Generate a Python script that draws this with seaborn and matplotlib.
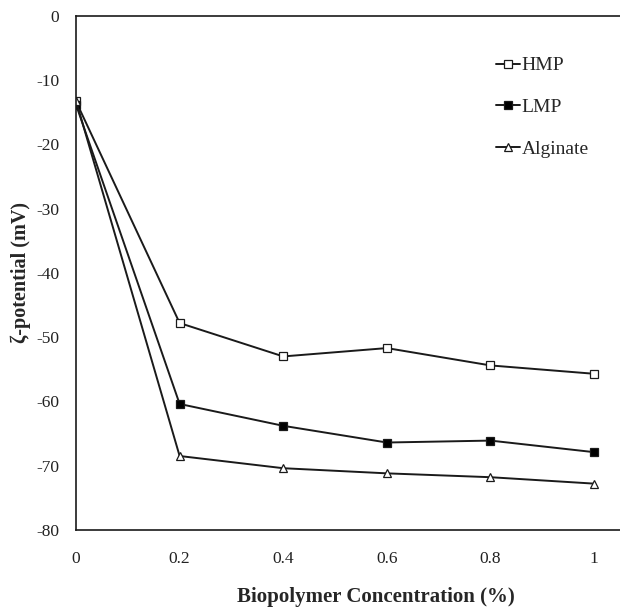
import matplotlib
matplotlib.use("Agg")
import matplotlib.pyplot as plt
import seaborn as sns
import pandas as pd

concentration = [0, 0.2, 0.4, 0.6, 0.8, 1.0]
hmp = [-13.3, -47.8, -53.0, -51.7, -54.4, -55.7]
lmp = [-13.8, -60.4, -63.8, -66.4, -66.1, -67.9]
alginate = [-13.2, -68.5, -70.4, -71.2, -71.8, -72.8]
series_names = ["HMP", "LMP", "Alginate"]
y_ticks = [0, -10, -20, -30, -40, -50, -60, -70, -80]
x_ticks = [0, 0.2, 0.4, 0.6, 0.8, 1]
x_tick_labels = ["0", "0.2", "0.4", "0.6", "0.8", "1"]

sns.set_theme(style="white")
plt.rcParams['font.family'] = ['Liberation Serif', 'DejaVu Serif']
plt.rcParams['axes.unicode_minus'] = False

fig = plt.figure(figsize=(6.2, 6.14), dpi=100)
ax = fig.add_axes([0.1226, 0.137, 0.8774, 0.837])

styles = {
    "HMP": dict(marker="s", markerfacecolor="white"),
    "LMP": dict(marker="s", markerfacecolor="black"),
    "Alginate": dict(marker="^", markerfacecolor="white"),
}
for name, vals in zip(series_names, [hmp, lmp, alginate]):
    df = pd.DataFrame({"x": concentration, "y": vals})
    sns.lineplot(data=df, x="x", y="y", ax=ax, color="#1a1a1a", linewidth=1.4,
                 markersize=6, markeredgecolor="#1a1a1a", markeredgewidth=0.9,
                 label=name, **styles[name])

ax.set_xlim(0, 1.05)
ax.set_ylim(-80, 0)
ax.set_xticks(x_ticks)
ax.set_xticklabels(x_tick_labels)
ax.set_yticks(y_ticks)
ax.tick_params(axis="both", direction="out", length=5, width=1.0, color="#1a1a1a",
               labelsize=12.5, labelcolor="#222222")
ax.tick_params(axis="x", pad=10)
ax.tick_params(axis="y", pad=7)
for s in ["left", "bottom", "top"]:
    ax.spines[s].set_color("#1a1a1a")
    ax.spines[s].set_linewidth(1.2)
ax.spines["right"].set_visible(False)

ax.set_xlabel("Biopolymer Concentration (%)", fontsize=15, fontweight="bold")
ax.xaxis.set_label_coords(0.551, -0.111)
ax.set_ylabel("ζ-potential (mV)", fontsize=14.5, fontweight="bold", labelpad=4)

leg = ax.legend(loc="center left", bbox_to_anchor=(0.755, 0.822), frameon=False,
                fontsize=14, handlelength=1.2, handletextpad=0.1, labelspacing=1.25,
                borderpad=0)

fig.savefig("out.png", dpi=100, facecolor="white")
